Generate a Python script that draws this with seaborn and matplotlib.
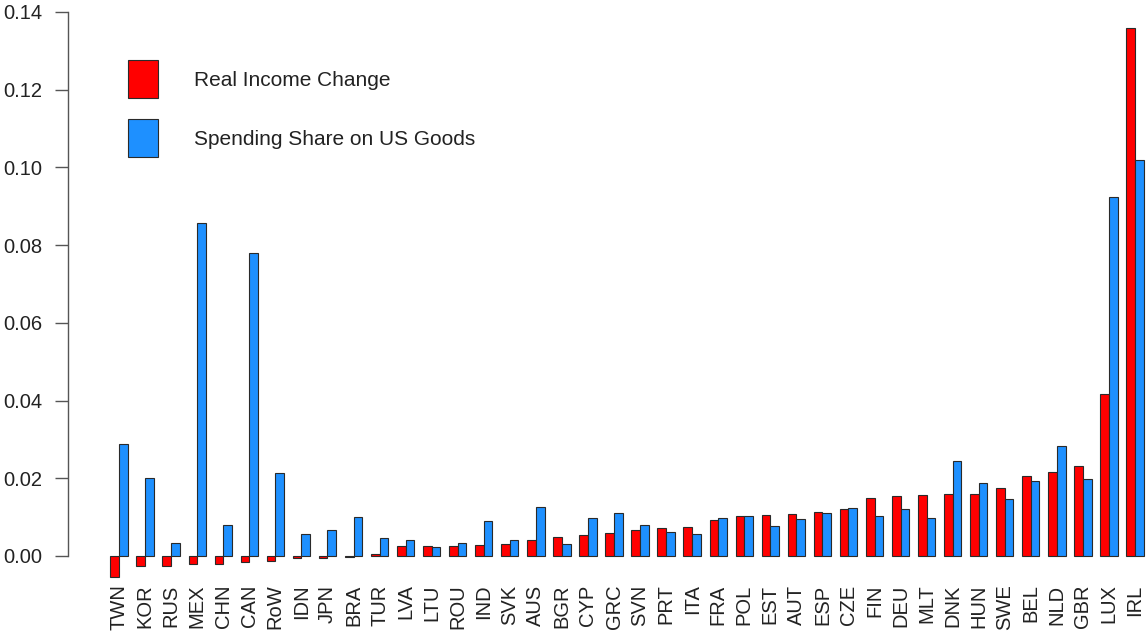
import numpy as np
import pandas as pd
import matplotlib
matplotlib.use("Agg")
import matplotlib.pyplot as plt
from matplotlib.patches import Patch
import seaborn as sns

# dados
countries = ['TWN', 'KOR', 'RUS', 'MEX', 'CHN', 'CAN', 'RoW', 'IDN', 'JPN', 'BRA',
             'TUR', 'LVA', 'LTU', 'ROU', 'IND', 'SVK', 'AUS', 'BGR', 'CYP', 'GRC',
             'SVN', 'PRT', 'ITA', 'FRA', 'POL', 'EST', 'AUT', 'ESP', 'CZE', 'FIN',
             'DEU', 'MLT', 'DNK', 'HUN', 'SWE', 'BEL', 'NLD', 'GBR', 'LUX', 'IRL']

real_income = [-0.0054, -0.0026, -0.0025, -0.0020, -0.0021, -0.0016, -0.0012, -0.0005, -0.0004, -0.0002,
               0.0004, 0.0026, 0.0026, 0.0025, 0.0028, 0.0032, 0.0042, 0.0050, 0.0054, 0.0060,
               0.0067, 0.0072, 0.0075, 0.0093, 0.0102, 0.0106, 0.0107, 0.0112, 0.0121, 0.0149,
               0.0154, 0.0158, 0.0160, 0.0160, 0.0174, 0.0207, 0.0215, 0.0232, 0.0418, 0.1360]

us_share = [0.0288, 0.0201, 0.0033, 0.0857, 0.0079, 0.0780, 0.0213, 0.0057, 0.0067, 0.0100,
            0.0046, 0.0042, 0.0022, 0.0033, 0.0090, 0.0040, 0.0125, 0.0032, 0.0099, 0.0110,
            0.0080, 0.0062, 0.0057, 0.0098, 0.0103, 0.0077, 0.0095, 0.0111, 0.0124, 0.0102,
            0.0121, 0.0097, 0.0244, 0.0188, 0.0147, 0.0194, 0.0283, 0.0199, 0.0924, 0.1019]

series_names = ['Real Income Change', 'Spending Share on US Goods']
cores = {'Real Income Change': '#FF0000', 'Spending Share on US Goods': '#1E90FF'}
y_ticks = [0.00, 0.02, 0.04, 0.06, 0.08, 0.10, 0.12, 0.14]

df = pd.DataFrame({
    'country': countries * 2,
    'value': real_income + us_share,
    'series': [series_names[0]] * len(countries) + [series_names[1]] * len(countries),
})

sns.set_style("white")
plt.rcParams['font.family'] = ['Liberation Sans', 'DejaVu Sans']

fig = plt.figure(figsize=(11.47, 6.33), dpi=100)
ax = fig.add_axes([68 / 1147, 0.0787, 1 - 68 / 1147, 0.9128])

sns.barplot(data=df, x='country', y='value', hue='series', order=countries,
            hue_order=series_names, palette=cores, width=2 / 3,
            edgecolor='#2a2a2a', linewidth=0.8, saturation=1, legend=False, ax=ax)

ax.set_xlim(-1.96, 39.46)
ax.set_ylim(-0.0070, 0.1417)
ax.set_xlabel('')
ax.set_ylabel('')

ax.set_yticks(y_ticks)
ax.set_yticklabels([f'{v:.2f}' for v in y_ticks])
ax.tick_params(axis='y', length=9.4, width=1, color='#555555', pad=9, labelsize=14.5, labelcolor='#222222', left=True)
ax.tick_params(axis='x', length=0, pad=1, labelsize=14.5, labelcolor='#222222', rotation=90)
for lab in ax.get_xticklabels():
    lab.set_verticalalignment('top')

for s in ['top', 'right', 'bottom']:
    ax.spines[s].set_visible(False)
ax.spines['left'].set_bounds(0, 0.14)
ax.spines['left'].set_color('#555555')
ax.spines['left'].set_linewidth(1)

handles = [Patch(facecolor=cores[n], edgecolor='#2a2a2a', linewidth=0.8, label=n) for n in series_names]
ax.legend(handles=handles, loc='upper left', bbox_to_anchor=(128 / 1147, 1 - 60 / 633),
          bbox_transform=fig.transFigure, frameon=False, fontsize=15,
          handlelength=1.42, handleheight=2.45, handletextpad=1.75, labelspacing=1.0,
          borderpad=0, borderaxespad=0, labelcolor='#222222')

fig.savefig('out.png', dpi=100)
